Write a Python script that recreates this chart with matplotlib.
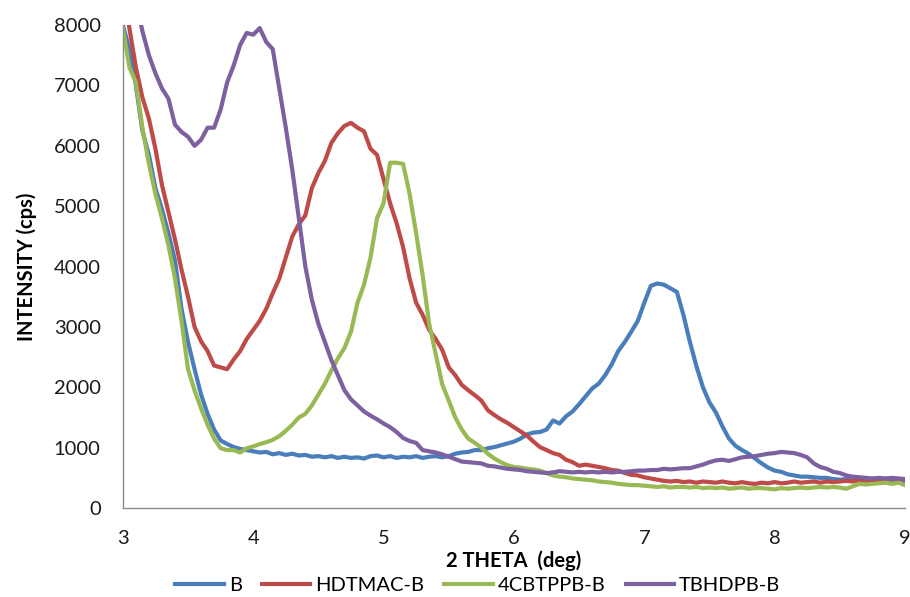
import numpy as np
import matplotlib
matplotlib.use("Agg")
import matplotlib.pyplot as plt

# --- DATA (step 0.05 deg) ---
two_theta = np.round(np.arange(3.0, 9.0001, 0.05), 2)

b_cps = [
    8000, 7600, 7000, 6250, 5850, 5300, 4950, 4550, 4100, 3300,
    2750, 2300, 1880, 1560, 1300, 1120, 1060, 1010, 980, 960,
    940, 920, 930, 890, 910, 880, 900, 870, 880, 850,
    860, 840, 860, 830, 850, 830, 840, 820, 860, 870,
    840, 860, 830, 850, 840, 860, 830, 850, 860, 840,
    860, 900, 920, 930, 960, 960, 990, 1010, 1040, 1070,
    1100, 1150, 1220, 1250, 1260, 1300, 1450, 1400, 1520, 1600,
    1720, 1850, 1980, 2060, 2200, 2380, 2600, 2750, 2920, 3100,
    3400, 3680, 3720, 3700, 3640, 3580, 3200, 2750, 2350, 2000,
    1750, 1580, 1350, 1150, 1030, 960, 900, 820, 740, 670,
    620, 600, 560, 540, 520, 520, 510, 500, 500, 480,
    470, 480, 460, 470, 450, 460, 440, 460, 460, 450,
    440,
]

hdtmac_cps = [
    8800, 7950, 7300, 6800, 6450, 5950, 5350, 4900, 4450, 3950,
    3500, 3000, 2760, 2600, 2360, 2330, 2300, 2460, 2600, 2800,
    2950, 3100, 3300, 3560, 3800, 4150, 4500, 4700, 4850, 5300,
    5550, 5750, 6050, 6210, 6330, 6380, 6300, 6240, 5950, 5850,
    5450, 5050, 4720, 4320, 3800, 3400, 3200, 2950, 2800, 2620,
    2330, 2200, 2040, 1950, 1870, 1780, 1620, 1540, 1470, 1410,
    1340, 1270, 1200, 1100, 1010, 960, 910, 880, 800, 760,
    700, 720, 700, 680, 660, 630, 620, 580, 550, 540,
    510, 490, 470, 450, 440, 450, 430, 440, 420, 440,
    430, 420, 440, 420, 410, 430, 410, 400, 420, 410,
    430, 410, 420, 440, 420, 430, 440, 420, 440, 430,
    440, 450, 440, 460, 450, 470, 460, 480, 490, 480,
    470,
]

cbtppb_cps = [
    7950, 7300, 7050, 6300, 5700, 5200, 4800, 4350, 3800, 3100,
    2300, 1950, 1650, 1380, 1150, 990, 960, 960, 920, 990,
    1020, 1060, 1090, 1130, 1190, 1280, 1380, 1500, 1560, 1700,
    1880, 2060, 2280, 2480, 2650, 2920, 3400, 3700, 4150, 4800,
    5050, 5720, 5720, 5700, 5200, 4550, 3850, 3050, 2550, 2050,
    1780, 1500, 1300, 1150, 1080, 1000, 900, 820, 760, 710,
    680, 670, 650, 640, 620, 580, 540, 520, 510, 490,
    480, 470, 460, 440, 430, 420, 400, 390, 380, 380,
    370, 360, 350, 360, 340, 350, 350, 340, 350, 330,
    340, 330, 340, 320, 330, 340, 320, 330, 330, 320,
    310, 330, 320, 330, 340, 330, 340, 350, 340, 350,
    340, 320, 360, 400, 390, 400, 410, 420, 400, 420,
    380,
]

tbhdpb_cps = [
    9500, 9000, 8400, 7900, 7500, 7200, 6950, 6780, 6350, 6230,
    6150, 6000, 6100, 6300, 6300, 6600, 7050, 7330, 7670, 7870,
    7840, 7950, 7720, 7600, 6950, 6300, 5600, 4800, 4000, 3450,
    3050, 2750, 2450, 2200, 1950, 1800, 1700, 1600, 1530, 1470,
    1400, 1340, 1260, 1160, 1110, 1080, 960, 940, 920, 890,
    850, 810, 770, 760, 750, 740, 700, 690, 670, 650,
    640, 630, 610, 600, 590, 580, 590, 610, 600, 590,
    600, 590, 600, 590, 600, 590, 600, 600, 610, 620,
    620, 630, 630, 650, 640, 650, 660, 660, 690, 720,
    760, 790, 800, 780, 810, 840, 850, 860, 880, 900,
    910, 930, 920, 910, 880, 840, 740, 680, 650, 600,
    580, 540, 520, 510, 500, 490, 500, 490, 500, 490,
    480,
]

series_names = ["B", "HDTMAC-B", "4CBTPPB-B", "TBHDPB-B"]
series_colors = ["#4A7EBB", "#BE4B48", "#98B954", "#7D60A0"]
x_ticks = [3, 4, 5, 6, 7, 8, 9]
y_ticks = [0, 1000, 2000, 3000, 4000, 5000, 6000, 7000, 8000]

plt.rcParams['font.family'] = ['Lato', 'DejaVu Sans']

fig = plt.figure(figsize=(9.10, 5.97), dpi=100, facecolor='white')
ax = fig.add_axes([0.135, 0.149, 0.8595, 0.809])

for vals, name, col in zip([b_cps, hdtmac_cps, cbtppb_cps, tbhdpb_cps],
                           series_names, series_colors):
    ax.plot(two_theta, vals, color=col, linewidth=3.0, label=name,
            solid_joinstyle='round', clip_on=True)

ax.set_xlim(3, 9)
ax.set_ylim(0, 8000)
ax.set_xticks(x_ticks)
ax.set_yticks(y_ticks)
ax.tick_params(length=0, labelsize=14.5, colors='#1a1a1a', pad=16)

for side in ['top', 'right']:
    ax.spines[side].set_visible(False)
for side in ['left', 'bottom']:
    ax.spines[side].set_color('#8c8c8c')
    ax.spines[side].set_linewidth(1.0)

ax.set_xlabel("2 THETA  (deg)", fontsize=14.5, fontweight='bold', labelpad=2)
ax.set_ylabel("INTENSITY (cps)", fontsize=14.5, fontweight='bold', labelpad=12)

fig.legend(loc='lower center', bbox_to_anchor=(0.525, -0.025), ncol=4,
           frameon=False, fontsize=14.5, handlelength=2.4,
           handletextpad=0.25, columnspacing=1.0)

fig.savefig("out.png", dpi=100, facecolor='white')
